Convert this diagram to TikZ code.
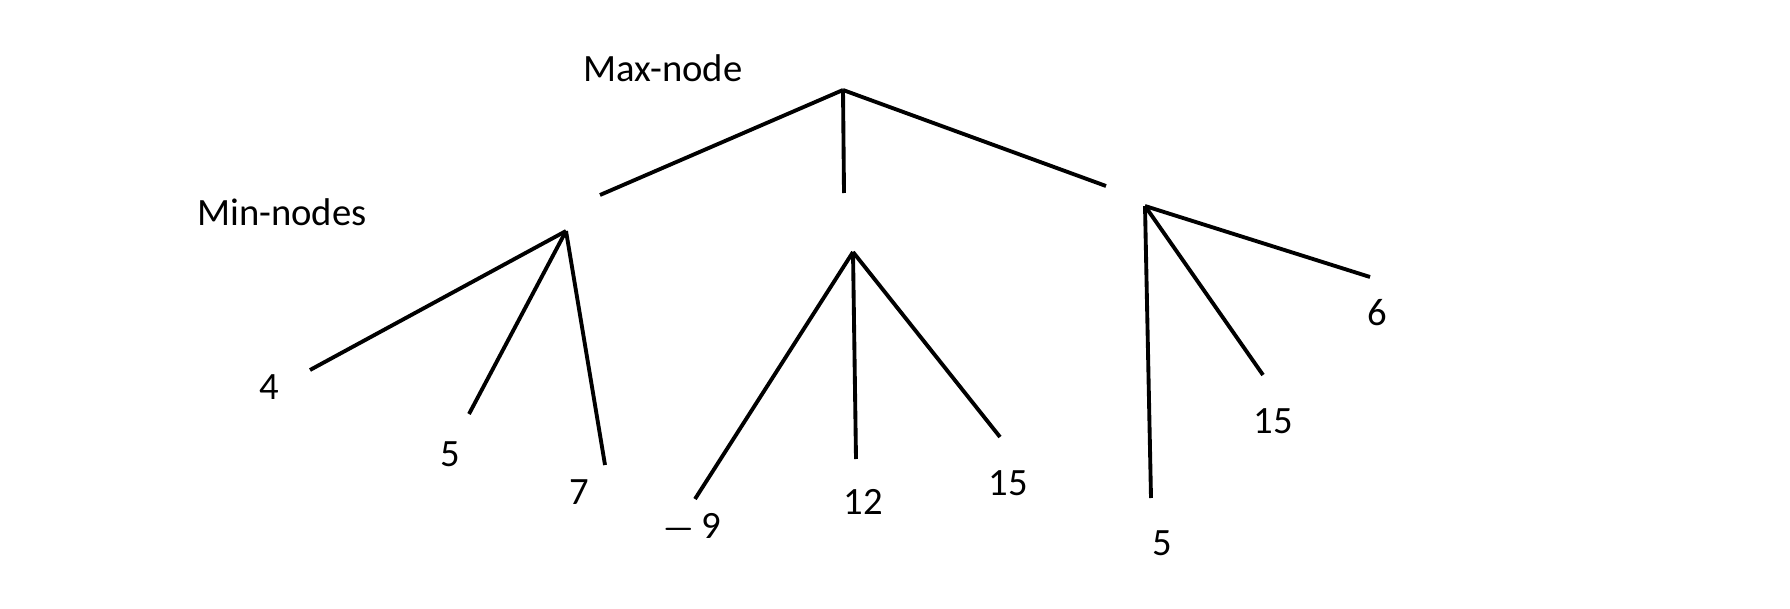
\documentclass[tikz,border=0pt]{standalone}
\usepackage{fontspec}
\setmainfont{Carlito}
\usepackage{tikz}

\tikzset{
    edge/.style={line width=2.2pt, line cap=butt},
    lbl/.style={font=\fontsize{22}{26}\selectfont, inner sep=0pt}
}

\begin{document}
\begin{tikzpicture}[x=0.02cm, y=-0.02cm]
    \useasboundingbox (0,0) rectangle (1790,608);

    % Titles
    \node[lbl] (maxlabel) at (663,68) {Max-node};
    \node[lbl] (minlabel) at (282,212) {Min-nodes};

    % Max node and its three branches
    \coordinate (root) at (843,90);
    \coordinate (rootL) at (600,195);
    \coordinate (rootM) at (844,193);
    \coordinate (rootR) at (1106,186);
    \draw[edge] (root) -- (rootL);
    \draw[edge] (root) -- (rootM);
    \draw[edge] (root) -- (rootR);

    % Left min node
    \coordinate (minA) at (566,231);
    \coordinate (a1) at (310,370);
    \coordinate (a2) at (469,414);
    \coordinate (a3) at (605,465);
    \draw[edge] (minA) -- (a1);
    \draw[edge] (minA) -- (a2);
    \draw[edge] (minA) -- (a3);
    \node[lbl] (la1) at (269,387) {4};
    \node[lbl] (la2) at (450,454) {5};
    \node[lbl] (la3) at (579,492) {7};

    % Middle min node
    \coordinate (minB) at (853,252);
    \coordinate (b1) at (695,499);
    \coordinate (b2) at (856,459);
    \coordinate (b3) at (1000,437);
    \draw[edge] (minB) -- (b1);
    \draw[edge] (minB) -- (b2);
    \draw[edge] (minB) -- (b3);
    \node[lbl] (lb1) at (692,528) {{\boldmath$-$}\,9};
    \node[lbl] (lb2) at (863,502) {12};
    \node[lbl] (lb3) at (1008,483) {15};

    % Right min node
    \coordinate (minC) at (1145,206);
    \coordinate (c1) at (1151,498);
    \coordinate (c2) at (1263,375);
    \coordinate (c3) at (1370,277);
    \draw[edge] (minC) -- (c1);
    \draw[edge] (minC) -- (c2);
    \draw[edge] (minC) -- (c3);
    \node[lbl] (lc1) at (1162,543) {5};
    \node[lbl] (lc2) at (1273,421) {15};
    \node[lbl] (lc3) at (1377,313) {6};
\end{tikzpicture}
\end{document}
